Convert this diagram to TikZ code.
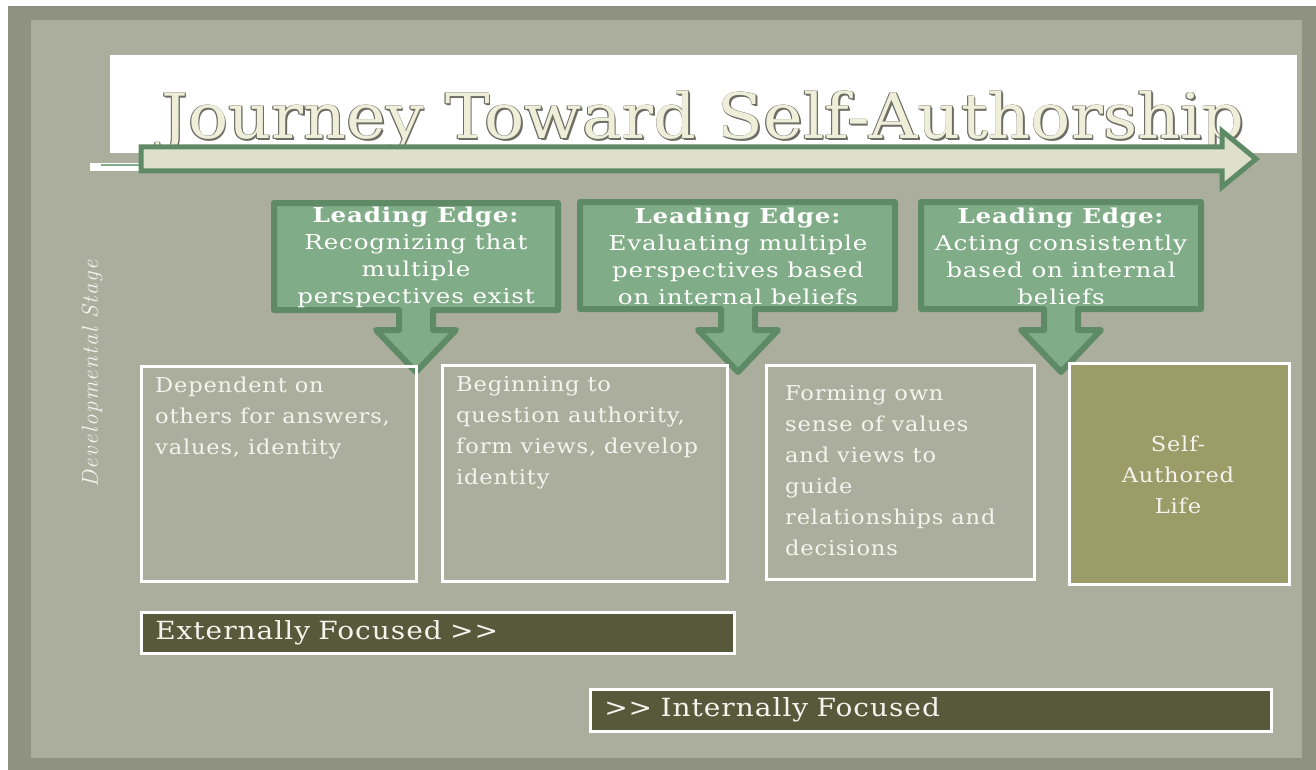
\documentclass[tikz,border=0pt]{standalone}
\usepackage{fontspec}
\usepackage[HTML]{xcolor}
\usepackage{tikz}
\usetikzlibrary{positioning}

\newfontfamily\slab[FakeStretch=1.2,LetterSpace=4]{DejaVu Serif}
\newfontfamily\titlefont[FakeStretch=1.07]{DejaVu Serif}
\newfontfamily\stagefont[FakeStretch=1.1,LetterSpace=4]{DejaVu Serif}
\newfontfamily\barfont[FakeStretch=1.12,LetterSpace=4]{DejaVu Serif}
\newfontfamily\sidefont[LetterSpace=6]{Latin Modern Roman}

\definecolor{framedark}{HTML}{8F9181}
\definecolor{panel}{HTML}{ABAE9D}
\definecolor{leadfill}{HTML}{80AD87}
\definecolor{leadline}{HTML}{5F8A66}
\definecolor{arrowfill}{HTML}{DFE0CC}
\definecolor{barfill}{HTML}{58593A}
\definecolor{olive}{HTML}{9B9C68}
\definecolor{titlecream}{HTML}{EEEED9}
\definecolor{titleshade}{HTML}{6E6E66}
\definecolor{softwhite}{HTML}{F4F4EE}

% title letters with a thin dark rim
\newcommand\rimtext[1]{%
  \rlap{\color{titleshade}\kern1.6pt\raisebox{-1.6pt}{#1}}%
  \rlap{\color{titleshade}\kern-0.8pt\raisebox{0.8pt}{#1}}%
  \rlap{\color{titleshade}\kern0.8pt\raisebox{0.8pt}{#1}}%
  \rlap{\color{titleshade}\kern-0.8pt\raisebox{-0.8pt}{#1}}%
  \rlap{\color{titleshade}\kern0.8pt\raisebox{-0.8pt}{#1}}%
  {\color{titlecream}#1}}

% box with a down arrow: left, right, top, bottom, arrow x
\newcommand\leadshape[5]{%
  \draw[leadbox] (#1,#3) -- (#2,#3) -- (#2,#4) -- (#5+17,#4) -- (#5+17,330)
    -- (#5+40,330) -- (#5,372) -- (#5-40,330) -- (#5-17,330) -- (#5-17,#4)
    -- (#1,#4) -- cycle;}

\begin{document}
\begin{tikzpicture}[x=1pt, y=-1pt,
  leadbox/.style={draw=leadline, fill=leadfill, line width=6pt, line join=round},
  leadtext/.style={text=white, font=\slab\fontsize{20.5}{27}\selectfont, align=center, inner sep=0pt},
  stagebox/.style={draw=white, line width=2.5pt, anchor=north west},
  stagetext/.style={text=softwhite, font=\stagefont\fontsize{20.5}{31}\selectfont, align=left, inner sep=0pt},
  focusbar/.style={draw=white, fill=barfill, line width=2.5pt, anchor=north west,
    align=left, inner xsep=13pt, text=softwhite, font=\barfont\fontsize{25}{25}\selectfont}]
\useasboundingbox (0,0) rectangle (1316,770);

% Background
\fill[white] (0,0) rectangle (1316,770);
\fill[framedark] (8,6) rectangle (1316,770);
\fill[panel] (31,20) rectangle (1302,758);
\fill[white] (110,55) rectangle (1297,153);

% Title and the long arrow
\node[anchor=base, font=\titlefont\fontsize{62.5}{62.5}\selectfont] (title) at (703,139)
  {\rimtext{Journey Toward Self-Authorship}};
\fill[white] (90,163) rectangle (140,171);
\draw[leadfill, line width=2pt] (101,165.5) -- (140,165.5);
\draw[draw=leadline, fill=arrowfill, line width=5pt, line join=miter]
  (141,147) -- (1222,147) -- (1222,131) -- (1256,159) -- (1222,187) -- (1222,171)
  -- (141,171) -- cycle;

% Side label
\node[rotate=90, text=softwhite, font=\sidefont\itshape\fontsize{23}{23}\selectfont]
  (sidelabel) at (92,374) {Developmental Stage};

% Leading edges
\leadshape{274}{558}{203}{310}{416}
\leadshape{580}{895}{202}{309}{738}
\leadshape{921}{1201}{202}{309}{1061}
\node[leadtext] (lead1) at (416,257) {\textbf{Leading Edge:}\\Recognizing that\\multiple\\perspectives exist};
\node[leadtext] (lead2) at (738,256) {\textbf{Leading Edge:}\\Evaluating multiple\\perspectives based\\on internal beliefs};
\node[leadtext] (lead3) at (1061,256) {\textbf{Leading Edge:}\\Acting consistently\\based on internal\\beliefs};

% Stages
\node[stagebox, minimum width=275pt, minimum height=215pt] (stage1) at (140,365) {};
\node[stagebox, minimum width=285pt, minimum height=216pt] (stage2) at (441,364) {};
\node[stagebox, minimum width=268pt, minimum height=214pt] (stage3) at (765,364) {};
\node[stagebox, fill=olive, minimum width=220pt, minimum height=221pt] (stage4) at (1068,362) {};
\node[stagetext, below right=12pt and 15pt of stage1.north west, anchor=north west]
  (text1) {Dependent on\\others for answers,\\values, identity};
\node[stagetext, below right=12pt and 15pt of stage2.north west, anchor=north west]
  (text2) {Beginning to\\question authority,\\form views, develop\\identity};
\node[stagetext, below right=21pt and 20pt of stage3.north west, anchor=north west]
  (text3) {Forming own\\sense of values\\and views to\\guide\\relationships and\\decisions};
\node[stagetext, align=center, text=softwhite] (text4) at (1178,475) {Self-\\Authored\\Life};

% Focus bars
\node[focusbar, minimum width=593pt, minimum height=41pt, text width=565pt] (external) at (140,611)
  {Externally Focused >>};
\node[focusbar, minimum width=681pt, minimum height=42pt, text width=653pt] (internal) at (589,688)
  {>> Internally Focused};
\end{tikzpicture}
\end{document}
